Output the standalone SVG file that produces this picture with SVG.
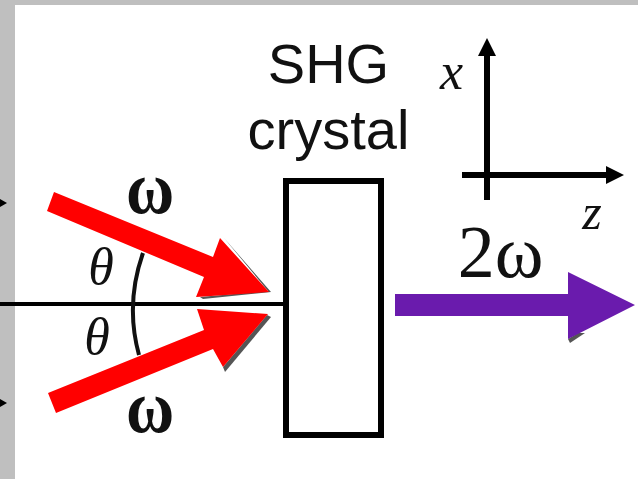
<svg xmlns="http://www.w3.org/2000/svg" width="638" height="479" viewBox="0 0 638 479">
<style>
.sans{font-family:"Liberation Sans",Arial,sans-serif;fill:#111}
.serif{font-family:"Liberation Serif","Times New Roman",serif;fill:#111}
.it{font-style:italic}
.red{fill:#ff0000}
.sh{fill:#555}
.ax{stroke:#000;stroke-width:6;fill:none}
</style>
<rect width="638" height="479" fill="#bfbfbf"/>
<rect x="15" y="5" width="623" height="474" fill="#fff"/>
<g id="connectors">
<path d="M0 304H285" stroke="#000" stroke-width="4" fill="none"/>
<path d="M143 253Q125 304 139 355" stroke="#111" stroke-width="4" fill="none"/>
<path d="M0 199L7 203L0 207Z M0 399L7 403L0 407Z" fill="#000"/>
</g>
<g id="beam-top">
<path class="sh" d="M224 238L271 292L203 299L200 297L268 291Z"/>
<path class="red" d="M54 192L213 257L220 238L269 292L196 297L204 277L47 211Z"/>
<text class="serif" transform="translate(150 213) scale(1 1.15)" font-size="66" font-weight="bold" text-anchor="middle">ω</text>
</g>
<g id="beam-bottom">
<path class="sh" d="M271 317L225 372L223 367L267 315Z"/>
<path class="red" d="M48 393L204 330L197 309L268 314L223 367L213 349L56 413Z"/>
<text class="serif" transform="translate(150 432) scale(1 1.15)" font-size="66" font-weight="bold" text-anchor="middle">ω</text>
</g>
<g id="theta-labels">
<text class="serif it" x="101" y="284" font-size="52" text-anchor="middle">θ</text>
<text class="serif it" x="97" y="354" font-size="52" text-anchor="middle">θ</text>
</g>
<g id="crystal">
<rect x="286" y="181" width="95" height="254" fill="none" stroke="#000" stroke-width="6"/>
<text class="sans" x="328.500" y="82.500" font-size="56" text-anchor="middle">SHG</text>
<text class="sans" x="328.500" y="148.500" font-size="56" text-anchor="middle">crystal</text>
</g>
<g id="axes">
<path class="ax" d="M487 200V55M462 175H607"/>
<path d="M487 38L496 56H478Z M624 175L606 166V184Z" fill="#000"/>
<text class="serif it" x="451.500" y="89" font-size="52" text-anchor="middle">x</text>
<text class="serif it" x="592" y="229" font-size="50" text-anchor="middle">z</text>
</g>
<g id="beam-out">
<path class="sh" d="M568 339L570 343L585 333L578 333Z"/>
<path d="M395 294H568V272L635 305L568 339V316H395Z" fill="#6a1bad"/>
<text class="serif" x="500.500" y="277" font-size="74" text-anchor="middle">2ω</text>
</g>
</svg>
